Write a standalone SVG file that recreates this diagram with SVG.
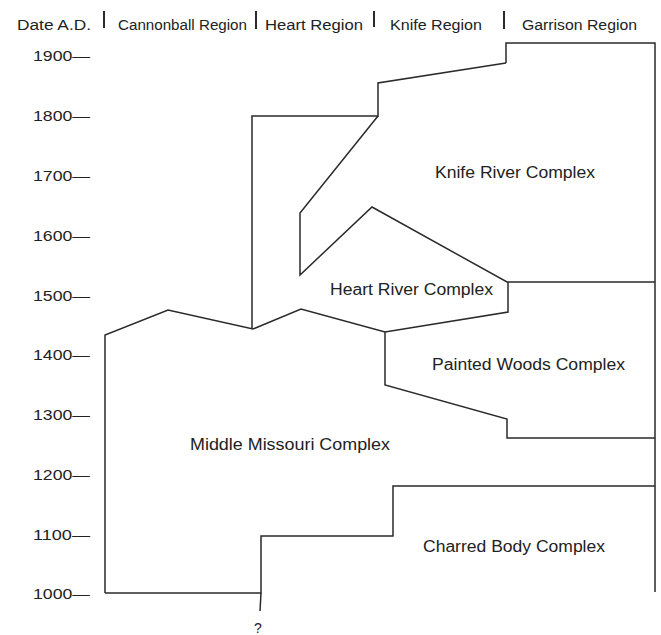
<svg xmlns="http://www.w3.org/2000/svg" width="661" height="635" viewBox="0 0 661 635">
<style>
.ln{fill:none;stroke:#2a2a2a;stroke-width:1.5;stroke-linejoin:miter}
.sep{stroke:#2a2a2a;stroke-width:2}
.t{font-family:"Liberation Sans",Arial,Helvetica,sans-serif;fill:#222}
.hd{font-size:15.5px}
.ax{font-size:15px}
.lb{font-size:16px}
</style>
<rect width="661" height="635" fill="#fff"/>
<g id="header">
<text class="t hd" x="17" y="30" textLength="74" lengthAdjust="spacingAndGlyphs">Date A.D.</text>
<text class="t hd" x="118" y="30" textLength="129" lengthAdjust="spacingAndGlyphs">Cannonball Region</text>
<text class="t hd" x="265" y="30" textLength="98" lengthAdjust="spacingAndGlyphs">Heart Region</text>
<text class="t hd" x="390" y="30" textLength="92" lengthAdjust="spacingAndGlyphs">Knife Region</text>
<text class="t hd" x="522" y="30" textLength="115" lengthAdjust="spacingAndGlyphs">Garrison Region</text>
<line class="sep" x1="104" y1="11" x2="104" y2="28"/>
<line class="sep" x1="256" y1="11" x2="256" y2="29"/>
<line class="sep" x1="374" y1="11" x2="374" y2="27"/>
<line class="sep" x1="504" y1="11" x2="504" y2="29"/>
</g>
<g id="axis">
<text class="t ax" x="33" y="61" textLength="57" lengthAdjust="spacingAndGlyphs">1900—</text>
<text class="t ax" x="33" y="121" textLength="57" lengthAdjust="spacingAndGlyphs">1800—</text>
<text class="t ax" x="33" y="181" textLength="57" lengthAdjust="spacingAndGlyphs">1700—</text>
<text class="t ax" x="33" y="241" textLength="57" lengthAdjust="spacingAndGlyphs">1600—</text>
<text class="t ax" x="33" y="301" textLength="57" lengthAdjust="spacingAndGlyphs">1500—</text>
<text class="t ax" x="33" y="360" textLength="57" lengthAdjust="spacingAndGlyphs">1400—</text>
<text class="t ax" x="33" y="420" textLength="57" lengthAdjust="spacingAndGlyphs">1300—</text>
<text class="t ax" x="33" y="480" textLength="57" lengthAdjust="spacingAndGlyphs">1200—</text>
<text class="t ax" x="33" y="540" textLength="57" lengthAdjust="spacingAndGlyphs">1100—</text>
<text class="t ax" x="33" y="599" textLength="57" lengthAdjust="spacingAndGlyphs">1000—</text>
</g>
<g id="connectors">
<path class="ln" d="M506,63 V43 H655 V592"/>
<path class="ln" d="M506,63 L378,83 V116 H252 V329"/>
<path class="ln" d="M378,116 L300,213 V275 L372,207 L507,282 H655"/>
<path class="ln" d="M105,593 V335 L168,310 L253,329 L301,309 L385,332 L508,312 V282"/>
<path class="ln" d="M385,332 V385 L507,419 V438 H655"/>
<path class="ln" d="M105,593 H261 V536 H393 V486 H655"/>
<path class="ln" d="M261,593 L260,611"/>
</g>
<g id="knife-river">
<text class="t lb" x="435" y="178" textLength="160" lengthAdjust="spacingAndGlyphs">Knife River Complex</text>
</g>
<g id="heart-river">
<text class="t lb" x="330" y="295" textLength="163" lengthAdjust="spacingAndGlyphs">Heart River Complex</text>
</g>
<g id="painted-woods">
<text class="t lb" x="432" y="370" textLength="193" lengthAdjust="spacingAndGlyphs">Painted Woods Complex</text>
</g>
<g id="middle-missouri">
<text class="t lb" x="190" y="450" textLength="200" lengthAdjust="spacingAndGlyphs">Middle Missouri Complex</text>
</g>
<g id="charred-body">
<text class="t lb" x="423" y="552" textLength="182" lengthAdjust="spacingAndGlyphs">Charred Body Complex</text>
</g>
<g id="unknown">
<text class="t" x="258" y="633" font-size="14" text-anchor="middle">?</text>
</g>
</svg>
